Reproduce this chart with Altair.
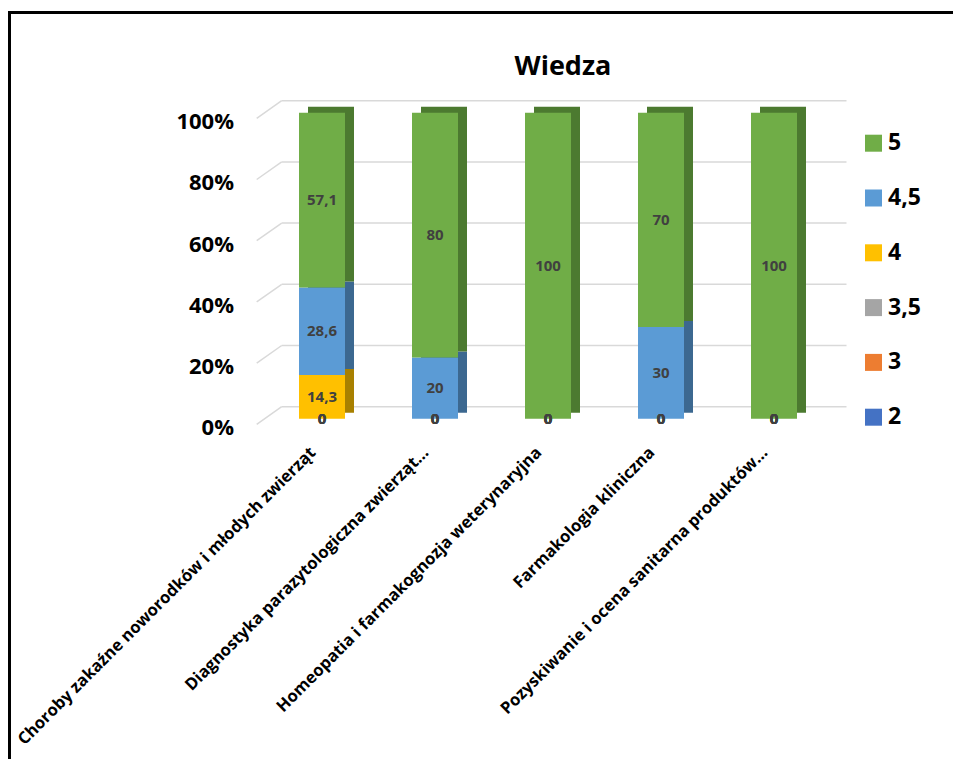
import altair as alt
import pandas as pd

TITLE = "Wiedza"
categories = [
    "Choroby zakaźne noworodków i młodych zwierząt",
    "Diagnostyka parazytologiczna zwierząt…",
    "Homeopatia i farmakognozja weterynaryjna",
    "Farmakologia kliniczna",
    "Pozyskiwanie i ocena sanitarna produktów…",
]
grades = ["2", "3", "3,5", "4", "4,5", "5"]  # stacking order, bottom to top
values_2 = [0, 0, 0, 0, 0]
values_3 = [0, 0, 0, 0, 0]
values_35 = [0, 0, 0, 0, 0]
values_4 = [14.3, 0, 0, 0, 0]
values_45 = [28.6, 20, 0, 30, 0]
values_5 = [57.1, 80, 100, 70, 100]
series = [values_2, values_3, values_35, values_4, values_45, values_5]
front_colors = ["#4472C4", "#ED7D31", "#A5A5A5", "#FFC000", "#5B9BD5", "#70AD47"]
side_colors = ["#2F5290", "#A85A23", "#757575", "#A88000", "#3C6890", "#4C7A30"]
y_ticks = [0, 20, 40, 60, 80, 100]
legend_order = ["5", "4,5", "4", "3,5", "3", "2"]

rows = []
for gi, (g, vals) in enumerate(zip(grades, series)):
    for c, v in zip(categories, vals):
        rows.append({
            "cat": c, "grade": g, "rank": gi, "value": v,
            "label": f"{v:g}".replace(".", ","),
            "side": side_colors[gi],
        })
df = pd.DataFrame(rows)
ticks_df = pd.DataFrame({"tick": y_ticks})
title_df = pd.DataFrame({"t": [TITLE]})

FONT = "Open Sans"
W, H = 565, 306

xenc = alt.X("cat:N", sort=categories,
             scale=alt.Scale(paddingInner=0.6, paddingOuter=0.3),
             axis=alt.Axis(title=None, labelAngle=-45, labelAlign="right",
                           labelBaseline="middle", labelPadding=31, labelOffset=-9,
                           labelFont=FONT, labelFontWeight="bold",
                           labelFontSize=16.6, labelColor="#000000",
                           labelLimit=1000, domain=False, ticks=False, grid=False))
yscale = alt.Scale(domain=[0, 100])
yaxis = alt.Axis(title=None, values=y_ticks, labelExpr="datum.value + '%'",
                 labelFont=FONT, labelFontWeight="bold", labelFontSize=22,
                 labelColor="#000000", labelPadding=32, labelOffset=9,
                 domain=False, ticks=False, grid=False)

base = alt.Chart(df).transform_stack(
    stack="value", groupby=["cat"], sort=[alt.SortField("rank", order="ascending")],
    as_=["y0", "y1"]
).transform_calculate(mid="(datum.y0 + datum.y1) / 2")

grid_back = alt.Chart(ticks_df).mark_rule(color="#D9D9D9", strokeWidth=1.5, yOffset=-12).encode(
    x=alt.value(16.2), x2=alt.value(581),
    y=alt.Y("tick:Q", scale=yscale, axis=yaxis),
)
grid_diag = alt.Chart(ticks_df).mark_rule(color="#D9D9D9", strokeWidth=1.5,
                                          yOffset=5.6, y2Offset=-12).encode(
    x=alt.value(-8.8), x2=alt.value(16.2),
    y=alt.Y("tick:Q", scale=yscale, axis=yaxis),
    y2=alt.Y2("tick:Q"),
)

back_bars = base.mark_bar(size=46, xOffset=9, x2Offset=9, yOffset=-6, y2Offset=-6).encode(
    x=xenc,
    y=alt.Y("y0:Q", scale=yscale, axis=yaxis),
    y2="y1:Q",
    color=alt.Color("side:N", scale=None),
)

front_bars = base.mark_bar(size=46).encode(
    x=xenc,
    y=alt.Y("y0:Q", scale=yscale, axis=yaxis),
    y2="y1:Q",
    color=alt.Color("grade:N",
                    scale=alt.Scale(domain=grades, range=front_colors),
                    sort=legend_order,
                    legend=alt.Legend(title=None, orient="none", legendX=596.5, legendY=19,
                                      symbolType="square", symbolSize=289,
                                      symbolStrokeWidth=0, labelFont=FONT,
                                      labelFontWeight="bold", labelFontSize=23,
                                      labelColor="#000000", rowPadding=30.8,
                                      labelOffset=3, values=legend_order)),
)

labels = base.mark_text(font=FONT, fontWeight="bold", fontSize=15, color="#404040").encode(
    x=xenc,
    y=alt.Y("mid:Q", scale=yscale, axis=yaxis),
    text="label:N",
)

title_mark = alt.Chart(title_df).mark_text(
    font=FONT, fontWeight="bold", fontSize=27, color="#000000",
    align="center", baseline="alphabetic"
).encode(x=alt.value(297.5), y=alt.value(-37.7), text="t:N")

frame_top = alt.Chart(ticks_df).mark_rule(color="#000000", strokeWidth=3).encode(
    x=alt.value(-256), x2=alt.value(700), y=alt.value(-100.2)
)
frame_left = alt.Chart(ticks_df).mark_rule(color="#000000", strokeWidth=3).encode(
    x=alt.value(-256), y=alt.value(-101.5), y2=alt.value(660)
)

chart = alt.layer(grid_back, grid_diag, back_bars, front_bars, labels,
                  title_mark, frame_top, frame_left).properties(
    width=W, height=H,
    background="#FFFFFF",
    padding={"left": 257.5, "top": 104.7, "right": 122.5, "bottom": 340.3},
    autosize=alt.AutoSizeParams(type="none"),
).configure_view(
    stroke="transparent", strokeWidth=0
).configure_axis(
    domain=False, grid=False, ticks=False
)

chart.save("out.html", embed_options={"renderer": "svg", "actions": False})
